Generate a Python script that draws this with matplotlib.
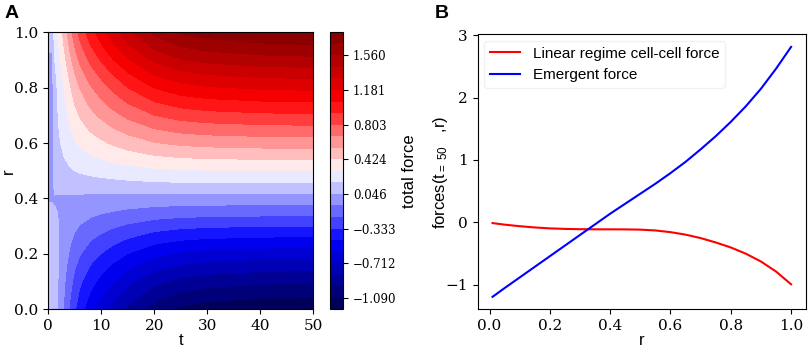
import numpy as np
import matplotlib
matplotlib.use("Agg")
import matplotlib.pyplot as plt

plt.rcParams["font.family"] = "DejaVu Serif"
plt.rcParams["mathtext.fontset"] = "custom"
plt.rcParams["mathtext.rm"] = "Liberation Sans"
plt.rcParams["mathtext.it"] = "Liberation Sans:italic"
SANS = "Liberation Sans"

# ---- panel B : forces at t = 50 ----
r_line = [0.01, 0.05, 0.10, 0.15, 0.20, 0.25, 0.30, 0.35, 0.40, 0.45, 0.50,
          0.55, 0.60, 0.65, 0.70, 0.75, 0.80, 0.85, 0.90, 0.95, 1.00]
linear_force = [-0.01, -0.035, -0.06, -0.08, -0.095, -0.103, -0.108, -0.11, -0.11, -0.111, -0.115,
                -0.128, -0.155, -0.195, -0.25, -0.32, -0.40, -0.50, -0.625, -0.785, -0.99]
emergent_force = [-1.19, -1.05, -0.88, -0.71, -0.54, -0.37, -0.20, -0.03, 0.14, 0.30, 0.46,
                  0.62, 0.79, 0.97, 1.17, 1.38, 1.61, 1.86, 2.14, 2.46, 2.81]

# ---- panel A : total force over (t, r) ----
r_grid = [0.00, 0.05, 0.10, 0.15, 0.20, 0.25, 0.30, 0.35, 0.40, 0.45, 0.50,
          0.55, 0.60, 0.65, 0.70, 0.75, 0.80, 0.85, 0.90, 0.95, 1.00]
# profile at t = 50 (right edge)
total_t50 = [-1.21, -1.08, -0.95, -0.81, -0.66, -0.50, -0.335, -0.165, -0.013, 0.154, 0.298,
             0.455, 0.61, 0.76, 0.91, 1.06, 1.21, 1.36, 1.52, 1.67, 1.81]
# very first instants (t < 1)
total_start = [0.10, 0.10, 0.10, 0.10, 0.10, 0.095, 0.09, 0.08, 0.03, 0.0, -0.01,
               -0.01, -0.01, -0.01, -0.01, -0.01, -0.01, 0.0, 0.03, 0.06, 0.09]
# level the slow growth starts from
total_base = [0.26, 0.24, 0.22, 0.20, 0.18, 0.15, 0.12, 0.08, 0.04, 0.07, 0.09,
              0.08, 0.07, 0.055, 0.04, 0.025, 0.01, 0.01, 0.02, 0.03, 0.04]
t_start = [0, 0.7]
t_grow = [1.2, 2, 3, 4, 5, 6, 8, 10, 12, 15, 20, 25, 30, 40, 50]
growth = [0.10, 0.163, 0.245, 0.325, 0.397, 0.455, 0.545, 0.615, 0.68, 0.765,
          0.875, 0.935, 0.965, 0.99, 1.0]
level_min, level_max, n_levels = -1.2165, 1.8125, 25

f50 = np.array(total_t50)[:, None]
fb = np.array(total_base)[:, None]
early = np.repeat(np.array(total_start)[:, None], len(t_start), axis=1)
later = fb + (f50 - fb) * np.array(growth)[None, :]
field = np.hstack([early, later])
t_all = t_start + t_grow
levels = np.linspace(level_min, level_max, n_levels)

fig = plt.figure(figsize=(8.09, 3.51), dpi=100)

# Panel A
axA = fig.add_axes([0.0597, 0.1188, 0.3276, 0.7892])
cs = axA.contourf(t_all, r_grid, field, levels=levels, cmap="seismic")
axA.set_xlim(0, 50)
axA.set_ylim(0, 1)
axA.set_xticks([0, 10, 20, 30, 40, 50])
axA.set_yticks([0.0, 0.2, 0.4, 0.6, 0.8, 1.0])
axA.tick_params(labelsize=11)
axA.set_xlabel("t", family=SANS, fontsize=12, labelpad=0)
axA.set_ylabel("r", family=SANS, fontsize=12)
axA.yaxis.set_label_coords(-0.122, 0.5)

cax = fig.add_axes([0.408, 0.1188, 0.0164, 0.7892])
cbar = fig.colorbar(cs, cax=cax)
cb_ticks = levels[1::3]
cbar.set_ticks(cb_ticks)
cbar.set_ticklabels([f"{v:.3f}".replace("-", "\u2212") for v in cb_ticks])
cbar.ax.tick_params(labelsize=8.5)
cbar.set_label("total force", family=SANS, fontsize=12, labelpad=4)

# Panel B
axB = fig.add_axes([0.5904, 0.1188, 0.4059, 0.7832])
axB.plot(r_line, linear_force, color="red", lw=1.5, label="Linear regime cell-cell force")
axB.plot(r_line, emergent_force, color="blue", lw=1.5, label="Emergent force")
axB.set_yticks([-1, 0, 1, 2, 3])
axB.set_xticks([0.0, 0.2, 0.4, 0.6, 0.8, 1.0])
axB.tick_params(labelsize=11)
axB.set_xlabel("r", family=SANS, fontsize=12, labelpad=0)
axB.set_ylabel(r"forces(t$_{=\ 50}$   ,r)", family=SANS, fontsize=12)
axB.yaxis.set_label_coords(-0.084, 0.5)
leg = axB.legend(loc="upper left", prop={"family": SANS, "size": 11}, borderaxespad=0.4)
leg.get_frame().set_edgecolor("#eeeeee")

fig.text(0.006, 0.985, "A", family=SANS, fontsize=14, fontweight="bold", va="top")
fig.text(0.537, 0.985, "B", family=SANS, fontsize=14, fontweight="bold", va="top")

fig.savefig("out.png", dpi=100)
